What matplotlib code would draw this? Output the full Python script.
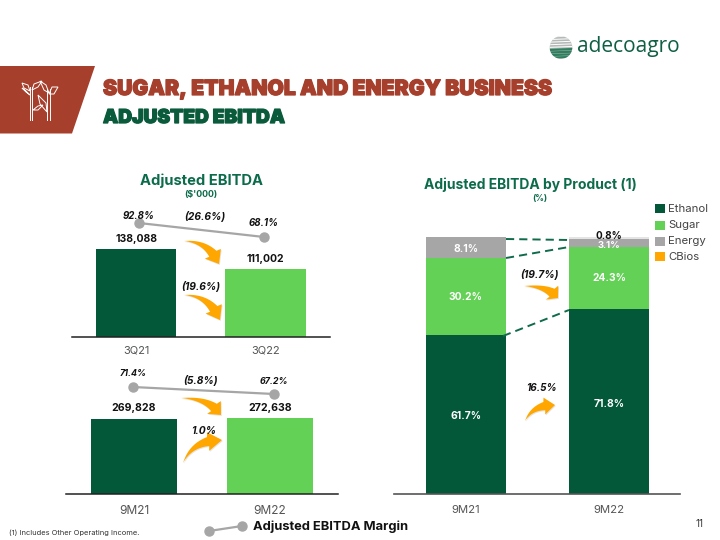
import numpy as np
import matplotlib
matplotlib.use("Agg")
import matplotlib.pyplot as plt
from matplotlib.patches import Polygon, Rectangle, Circle
import matplotlib.patheffects as pe

W, H = 720, 540

# ---- data ----
q_labels = ["3Q21", "3Q22"]
q_values = [138088, 111002]
q_margin = [92.8, 68.1]
q_margin_labels = ["92.8%", "68.1%"]
m_labels = ["9M21", "9M22"]
m_values = [269828, 272638]
m_margin = [71.4, 67.2]
m_margin_labels = ["71.4%", "67.2%"]
p_labels = ["9M21", "9M22"]
ethanol = [61.7, 71.8]
sugar = [30.2, 24.3]
energy = [8.1, 3.1]
cbios = [0.0, 0.8]
legend_names = ["Ethanol", "Sugar", "Energy", "CBios"]

DARK = "#03583A"
LIGHT = "#63D155"
GRAY = "#A6A6A6"
ORANGE = "#FFA600"
RED = "#A63F2C"
TITLEG = "#0C6B4A"
TXT = "#111111"
TICK = "#555555"
FONT = "Inter"
plt.rcParams["font.family"] = [FONT, "DejaVu Sans"]

fig = plt.figure(figsize=(W / 100, H / 100), dpi=100, facecolor="white")
bg = fig.add_axes([0, 0, 1, 1])
bg.set_xlim(0, W)
bg.set_ylim(H, 0)
bg.axis("off")


def px_axes(x0, x1, ytop, ybot, zorder=1):
    ax = fig.add_axes([x0 / W, 1 - ybot / H, (x1 - x0) / W, (ybot - ytop) / H], zorder=zorder)
    ax.patch.set_alpha(0)
    return ax


def bar_chart(x0, x1, ytop, ybot, xlim, ylim, labels, values, width, tick_pad, tick_size, lw_col="#222222"):
    ax = px_axes(x0, x1, ytop, ybot)
    ax.bar(range(2), values, width=width, color=[DARK, LIGHT], edgecolor="none")
    ax.set_xlim(*xlim)
    ax.set_ylim(*ylim)
    ax.set_xticks(range(2), labels, fontsize=tick_size, color=TICK)
    ax.tick_params(axis="x", length=0, pad=tick_pad)
    ax.set_yticks([])
    for s in ("top", "left", "right"):
        ax.spines[s].set_visible(False)
    ax.spines["bottom"].set_color(lw_col)
    ax.spines["bottom"].set_linewidth(1.1)
    return ax


def margin_line(xa, xb, ya, yb, vals):
    # overlay axes whose data range is pinned to the two end points
    ax = px_axes(xa, xb, min(ya, yb), max(ya, yb), zorder=2)
    ax.plot([0, 1], vals, color=GRAY, lw=1.6, marker="o", ms=6.5, clip_on=False)
    ax.set_xlim(0, 1)
    ax.set_ylim(min(vals), max(vals))
    ax.axis("off")
    return ax


# 3Q chart: x position 0 -> 136, 1 -> 265.7
sc = 129.7
ax1 = bar_chart(72, 330, 180, 336.5,
                ((72 - 136) / sc, (330 - 136) / sc),
                (19500, 19500 + 118588 * (156.5 / 87.5)),
                q_labels, q_values, 80.5 / sc, 6.5, 8)
# 9M chart
sc = 136.0
ax2 = bar_chart(66, 338, 370, 493.5,
                ((66 - 134) / sc, (338 - 134) / sc),
                (0, 269828 * (123.5 / 74.8)),
                m_labels, m_values, 86 / sc, 8, 8.6)
margin_line(139, 264, 223, 237, q_margin)
margin_line(133, 274, 387, 394, m_margin)

# stacked chart
sc = 143.3
ax3 = px_axes(394, 680, 225, 493.5)
xs = np.arange(2)
ax3.bar(xs, ethanol, width=80 / sc, color=DARK)
ax3.bar(xs, sugar, bottom=ethanol, width=80 / sc, color=LIGHT)
b2 = np.add(ethanol, sugar)
ax3.bar(xs, energy, bottom=b2, width=80 / sc, color=GRAY)
b3 = b2 + np.array(energy)
ax3.bar(xs, cbios, bottom=b3, width=80 / sc, color="#E4E4E4")
ax3.set_xlim((394 - 465.7) / sc, (680 - 465.7) / sc)
ax3.set_ylim(0, 268.5 / 2.564)
ax3.set_xticks(xs, p_labels, fontsize=8.2, color=TICK)
ax3.tick_params(axis="x", length=0, pad=8)
ax3.set_yticks([])
for s in ("top", "left", "right"):
    ax3.spines[s].set_visible(False)
ax3.spines["bottom"].set_color("#555555")
ax3.spines["bottom"].set_linewidth(1.2)
for xi in xs:
    ax3.text(xi, ethanol[xi] / 2 - 0.8, f"{ethanol[xi]:.1f}%", color="white", fontsize=7.4,
             fontweight="bold", ha="center", va="center")
    ax3.text(xi, ethanol[xi] + sugar[xi] / 2, f"{sugar[xi]:.1f}%", color="white", fontsize=7.4,
             fontweight="bold", ha="center", va="center")
ax3.text(0, b2[0] + energy[0] / 2 - 0.4, f"{energy[0]:.1f}%", color="white", fontsize=7.4, fontweight="bold",
         ha="center", va="center")
ax3.text(1, b2[1] + energy[1] / 2 - 1.1, f"{energy[1]:.1f}%", color="white", fontsize=6.8, fontweight="bold",
         ha="center", va="center")
ax3.text(1, b3[1] + 1.2, f"{cbios[1]:.1f}%", color=TXT, fontsize=7.2, fontweight="bold",
         ha="center", va="center", zorder=5)


# dashed connectors between stacked segments
def dash(x0, y0, x1, y1):
    bg.plot([x0, x1], [y0, y1], color="#0F6B4A", lw=1.4, dashes=(4.2, 2.6), zorder=3)


bg.set_zorder(3)
bg.patch.set_alpha(0)
dash(506, 239, 569, 240)
dash(506, 258, 569, 247)
dash(503, 336, 569, 310)


# curved orange arrows
def arrow(tail, tip, up=False, w=11.0):
    t0, t1 = np.array(tail, float), np.array(tip, float)
    d = t1 - t0
    if up:
        ctrl = t0 + np.array([d[0] * 0.25, d[1] * 1.0])
    else:
        ctrl = t0 + np.array([d[0] * 0.72, d[1] * 0.02])
    u = np.linspace(0, 1, 40)
    stop = 0.74
    uu = u * stop
    pts = ((1 - uu) ** 2)[:, None] * t0 + (2 * uu * (1 - uu))[:, None] * ctrl + (uu ** 2)[:, None] * t1
    tang = np.gradient(pts, axis=0)
    tang /= np.linalg.norm(tang, axis=1, keepdims=True)
    norm = np.c_[-tang[:, 1], tang[:, 0]]
    hw = (u ** 1.1 * w * 0.42)[:, None]
    a = pts + norm * hw
    b = pts - norm * hw
    dirn = t1 - pts[-1]
    dirn /= np.linalg.norm(dirn)
    n = np.array([-dirn[1], dirn[0]])
    head = np.array([pts[-1] + n * w * 0.85, t1, pts[-1] - n * w * 0.85])
    poly = np.vstack([a, head, b[::-1]])
    bg.add_patch(Polygon(poly + [0.8, 1.0], closed=True, fc="#D9D9D9", ec="none", alpha=0.7, zorder=3))
    bg.add_patch(Polygon(poly, closed=True, fc=ORANGE, ec="none", zorder=4))


arrow((184, 241), (219, 264))
arrow((184, 295), (220, 320))
arrow((181, 398), (221, 415))
arrow((183, 463), (222, 440), up=True)
arrow((524, 286), (558, 298))
arrow((525, 421), (555, 405), up=True, w=10)


def T(x, y, s, size, color=TXT, weight="normal", style="normal", ha="center", **kw):
    return bg.text(x, y, s, fontsize=size, color=color, fontweight=weight, fontstyle=style,
                   ha=ha, va="center", zorder=6, **kw)


# chart titles
T(201, 181, "Adjusted EBITDA", 10.6, TITLEG, "bold")
T(201, 195, "($'000)", 6.4, TITLEG, "bold")
T(530.5, 184.5, "Adjusted EBITDA by Product (1)", 10.0, TITLEG, "bold")
T(540, 198, "(%)", 6.2, TITLEG, "bold")

# value labels
T(136, 239, f"{q_values[0]:,}", 7.5, TXT, "bold")
T(265, 259, f"{q_values[1]:,}", 7.5, TXT, "bold")
T(134, 408, f"{m_values[0]:,}", 7.6, TXT, "bold")
T(270.5, 408, f"{m_values[1]:,}", 7.6, TXT, "bold")

# margin labels
T(139, 216, q_margin_labels[0], 7, TXT, "bold", "italic")
T(264, 223, q_margin_labels[1], 7, TXT, "bold", "italic")
T(133, 373, m_margin_labels[0], 6.4, TXT, "bold", "italic")
T(274, 381, m_margin_labels[1], 6.4, TXT, "bold", "italic")

# growth labels
T(205, 217, "(26.6%)", 7.4, TXT, "bold", "italic")
T(201, 286, "(19.6%)", 7.4, TXT, "bold", "italic")
T(201, 380, "(5.8%)", 7.4, TXT, "bold", "italic")
T(204, 431, "1.0%", 7.4, TXT, "bold", "italic")
T(539.5, 274, "(19.7%)", 7.4, TXT, "bold", "italic")
T(542, 388, "16.5%", 7.2, TXT, "bold", "italic")

# legend
for y, name, c in zip((208.5, 225, 241.5, 256.5), legend_names, (DARK, LIGHT, GRAY, ORANGE)):
    bg.add_patch(Rectangle((654.5, y - 4.5), 10, 9, fc=c, ec="none", zorder=5))
    T(668, y, name, 8.2, "#444444", ha="left")

# margin key at the bottom
bg.plot([209, 242], [531, 526], color=GRAY, lw=1.6, marker="o", ms=6.5, zorder=5)
T(253, 527, "Adjusted EBITDA Margin", 9.3, TXT, "bold", ha="left")

# footnote and page number
T(9, 533, "(1) Includes Other Operating Income.", 5.4, "#333333", ha="left")
T(700, 524, "11", 7, "#333333")

# header band
bg.add_patch(Polygon([(0, 66), (95, 66), (72, 133.5), (0, 133.5)], closed=True, fc=RED, ec="none"))
# plant icon: stalks
for x0, y0, x1, y1 in [(29.5, 120, 29.5, 87), (32, 120, 32, 87), (47, 120, 47, 89), (49.5, 120, 49.5, 89)]:
    bg.plot([x0, x1], [y0, y1], color="white", lw=0.7, zorder=4)
# plant icon: leaves
leaves = [
    [(30, 91), (24, 88), (22, 83), (28, 85)],
    [(32, 90), (34, 84), (42, 81), (38, 87)],
    [(40, 81), (46, 85), (49, 93), (44, 90)],
    [(49, 94), (52, 87), (58, 87), (54, 94)],
    [(47, 112), (46, 103), (38, 95), (40, 104)],
    [(33, 110), (38, 106), (43, 105), (38, 110)],
    [(22, 88), (26, 92), (30, 95), (26, 91)],
]
for lf in leaves:
    bg.add_patch(Polygon(lf, closed=True, fc="none", ec="white", lw=0.7, zorder=4))

stroke = lambda c: [pe.withStroke(linewidth=0.9, foreground=c)]
T(103, 89, "SUGAR, ETHANOL AND ENERGY BUSINESS", 15.2, RED, "black", ha="left", path_effects=stroke(RED))
T(103, 118, "ADJUSTED EBITDA", 13.8, "#0A5A3C", "black", ha="left", path_effects=stroke("#0A5A3C"))

# logo
bg.add_patch(Circle((561, 47.5), 11.3, fc="#B4B9B6", ec="none", zorder=4))
clip = Circle((561, 47.5), 11.3, transform=bg.transData)
for i, y in enumerate(np.arange(37, 60, 2.6)):
    col = "white" if i < 5 else "#2F7F5F"
    l, = bg.plot([548, 574], [y, y - 1], color=col, lw=0.7 if i < 5 else 1.6, zorder=5)
    l.set_clip_path(clip)
T(577.5, 46.5, "adecoagro", 15, "#0F5F43", ha="left", family="Open Sans")

fig.savefig("out.png", dpi=100, facecolor="white")
